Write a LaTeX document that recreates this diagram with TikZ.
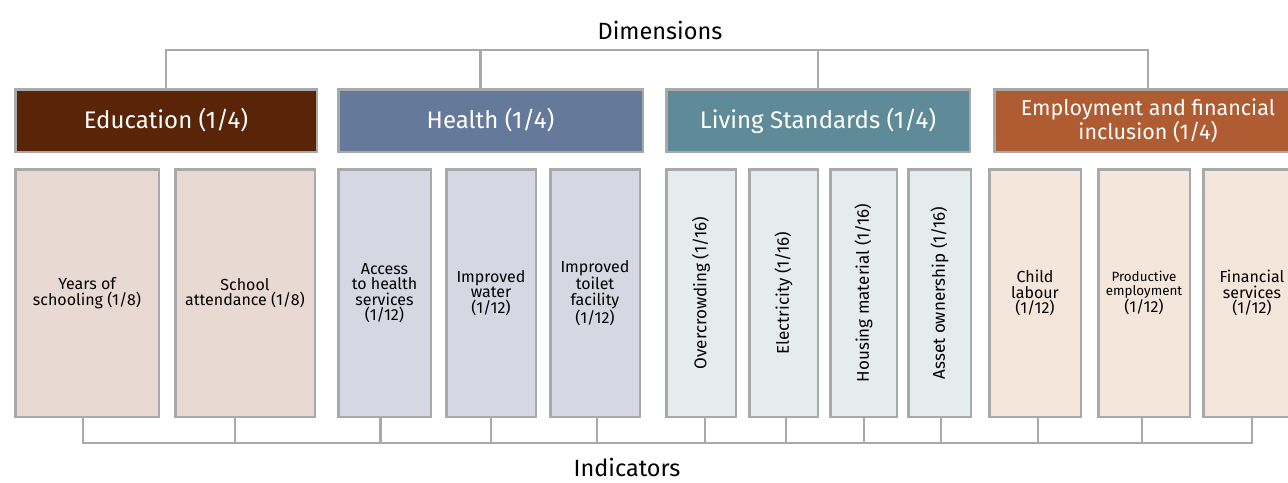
\documentclass[tikz,border=0pt]{standalone}
\usepackage{fontspec}
\setmainfont{Fira Sans}
\definecolor{edudark}{HTML}{5A2408}
\definecolor{hltdark}{HTML}{65799B}
\definecolor{livdark}{HTML}{5E8B97}
\definecolor{empdark}{HTML}{B05C32}
\definecolor{edulight}{HTML}{E8DAD2}
\definecolor{hltlight}{HTML}{D5D8E3}
\definecolor{livlight}{HTML}{E4ECEE}
\definecolor{emplight}{HTML}{F5E6DC}
\definecolor{boxgrey}{HTML}{A9A9A9}
\begin{document}
\begin{tikzpicture}[x=1pt, y=-1pt,
	dimbox/.style={draw=boxgrey, line width=2.5pt, text=white, minimum height=62.5pt, inner sep=0pt, align=center, font=\fontsize{24}{21}\selectfont},
	indbox/.style={draw=boxgrey, line width=2.5pt, minimum height=247.5pt, inner sep=0pt, align=center, font=\fontsize{16}{15.5}\selectfont},
	sidetext/.style={rotate=90, font=\fontsize{17}{17}\selectfont},
	link/.style={draw=boxgrey, line width=2.5pt}]
	\useasboundingbox (0,0) rectangle (1288,482);
	\clip (0,0) rectangle (1288,482);
	% dimensions
	\node[font=\fontsize{23.5}{23.5}\selectfont] (dimtitle) at (660,30) {Dimensions};
	\node[dimbox, fill=edudark, minimum width=301.5pt] (edu) at (166,120.5) {Education (1/4)};
	\node[dimbox, fill=hltdark, minimum width=304.5pt] (hlt) at (490.5,120.5) {Health (1/4)};
	\node[dimbox, fill=livdark, minimum width=303.5pt] (liv) at (818,120.5) {Living Standards (1/4)};
	\node[dimbox, fill=empdark, minimum width=307.5pt, font=\fontsize{21.5}{18.5}\selectfont] (emp) at (1148,120.5) {Employment and financial\\inclusion (1/4)};
	% indicators
	\node[indbox, fill=edulight, minimum width=143.5pt] (yrs) at (87,293) {Years of\\schooling (1/8)};
	\node[indbox, fill=edulight, minimum width=139.5pt] (att) at (245,293) {School\\attendance (1/8)};
	\node[indbox, fill=hltlight, minimum width=92.5pt] (acc) at (384.5,293) {Access\\to health\\services\\(1/12)};
	\node[indbox, fill=hltlight, minimum width=89.5pt] (wat) at (491,293) {Improved\\water\\(1/12)};
	\node[indbox, fill=hltlight, minimum width=89.5pt] (toi) at (595,293) {Improved\\toilet\\facility\\(1/12)};
	\node[indbox, fill=livlight, minimum width=69.5pt] (ovc) at (701,293) {};
	\node[sidetext] at (ovc.center) {Overcrowding (1/16)};
	\node[indbox, fill=livlight, minimum width=68.5pt] (ele) at (783.5,293) {};
	\node[sidetext] at (ele.center) {Electricity (1/16)};
	\node[indbox, fill=livlight, minimum width=66.5pt] (hou) at (863.5,293) {};
	\node[sidetext] at (hou.center) {Housing material (1/16)};
	\node[indbox, fill=livlight, minimum width=62.5pt] (ast) at (939.5,293) {};
	\node[sidetext] at (ast.center) {Asset ownership (1/16)};
	\node[indbox, fill=emplight, minimum width=91.5pt] (chl) at (1035,293) {Child\\labour\\(1/12)};
	\node[indbox, fill=emplight, minimum width=91.5pt, font=\fontsize{13.4}{14}\selectfont] (pro) at (1144,293) {Productive\\employment\\\fontsize{16}{13}\selectfont(1/12)};
	\node[indbox, fill=emplight, minimum width=97.5pt] (fin) at (1252,293) {Financial\\services\\(1/12)};
	\node[font=\fontsize{23.5}{23.5}\selectfont, inner sep=0pt, anchor=base] (indtitle) at (627,476) {Indicators};
	% connectors
	\coordinate (dimbar) at (660,50);
	\coordinate (indbar) at (660,443);
	\draw[link] (edu.north) |- (dimbar) -| (emp.north);
	\draw[link] ([xshift=-10pt]hlt.north) -- ([xshift=-10pt]hlt.north |- dimbar);
	\draw[link] (liv.north) -- (liv.north |- dimbar);
	\draw[link] ([xshift=-4pt]yrs.south) |- (indbar) -| (fin.south);
	\foreach \n/\s in {att/-10, acc/-4, wat/0, toi/2, ovc/4, ele/2.5, hou/0.5, ast/1.5, chl/3, pro/-2}
		\draw[link] ([xshift=\s pt]\n.south) -- ([xshift=\s pt]\n.south |- indbar);
\end{tikzpicture}
\end{document}
